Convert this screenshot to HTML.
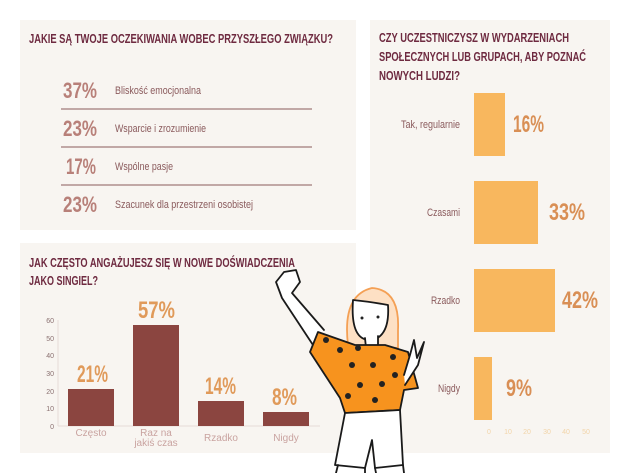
<!DOCTYPE html>
<html><head><meta charset="utf-8"><style>
html,body{margin:0;padding:0;background:#fff;}
svg{display:block;}
text{font-family:"Liberation Sans Narrow","Liberation Sans",sans-serif;}
</style></head><body>
<svg width="630" height="473" viewBox="0 0 630 473" xmlns="http://www.w3.org/2000/svg">
<rect width="630" height="473" fill="#fff"/>
<!-- panel 1 -->
<rect x="20" y="20" width="336" height="210" fill="#f8f5f1"/>
<text x="29" y="43" font-size="13" font-weight="bold" fill="#6e2a40" textLength="304" lengthAdjust="spacingAndGlyphs">JAKIE SĄ TWOJE OCZEKIWANIA WOBEC PRZYSZŁEGO ZWIĄZKU?</text>
<g fill="#b88079" font-size="22" font-weight="bold">
<text x="63" y="98" textLength="34" lengthAdjust="spacingAndGlyphs">37%</text>
<text x="63" y="136" textLength="34" lengthAdjust="spacingAndGlyphs">23%</text>
<text x="66" y="174" textLength="30" lengthAdjust="spacingAndGlyphs">17%</text>
<text x="63" y="212" textLength="34" lengthAdjust="spacingAndGlyphs">23%</text>
</g>
<g fill="#8a5a5c" font-size="11">
<text x="115" y="94" textLength="86" lengthAdjust="spacingAndGlyphs">Bliskość emocjonalna</text>
<text x="115" y="132" textLength="91" lengthAdjust="spacingAndGlyphs">Wsparcie i zrozumienie</text>
<text x="115" y="170" textLength="58" lengthAdjust="spacingAndGlyphs">Wspólne pasje</text>
<text x="115" y="208" textLength="138" lengthAdjust="spacingAndGlyphs">Szacunek dla przestrzeni osobistej</text>
</g>
<g stroke="#8a5a5c" stroke-width="1">
<line x1="61" y1="109" x2="312" y2="109"/><line x1="61" y1="147" x2="312" y2="147"/><line x1="61" y1="185" x2="312" y2="185"/>
</g>
<!-- panel 2 -->
<rect x="20" y="243" width="336" height="210" fill="#f8f5f1"/>
<text x="29" y="267" font-size="13" font-weight="bold" fill="#6e2a40" textLength="266" lengthAdjust="spacingAndGlyphs">JAK CZĘSTO ANGAŻUJESZ SIĘ W NOWE DOŚWIADCZENIA</text>
<text x="29" y="285" font-size="13" font-weight="bold" fill="#6e2a40" textLength="69" lengthAdjust="spacingAndGlyphs">JAKO SINGIEL?</text>
<g font-size="7" fill="#8a7070" text-anchor="end">
<text x="54" y="429">0</text><text x="54" y="411">10</text><text x="54" y="394">20</text><text x="54" y="376">30</text><text x="54" y="358">40</text><text x="54" y="341">50</text><text x="54" y="323">60</text>
</g>
<line x1="58" y1="320" x2="58" y2="426" stroke="#e6dcd6"/>
<line x1="58" y1="426" x2="320" y2="426" stroke="#e6dcd6"/>
<g fill="#8b4540">
<rect x="68" y="389" width="46" height="37"/>
<rect x="133" y="325" width="46" height="101"/>
<rect x="198" y="401" width="46" height="25"/>
<rect x="263" y="412" width="46" height="14"/>
</g>
<g fill="#e09a5a" font-size="24" font-weight="bold">
<text x="77" y="382" textLength="31" lengthAdjust="spacingAndGlyphs">21%</text>
<text x="138" y="318" textLength="37" lengthAdjust="spacingAndGlyphs">57%</text>
<text x="205" y="394" textLength="31" lengthAdjust="spacingAndGlyphs">14%</text>
<text x="272" y="405" textLength="25" lengthAdjust="spacingAndGlyphs">8%</text>
</g>
<g fill="#c9a3a0" font-size="10" text-anchor="middle">
<text x="91" y="436">Często</text><text x="156" y="436">Raz na</text><text x="156" y="446">jakiś czas</text><text x="221" y="441">Rzadko</text><text x="286" y="441">Nigdy</text>
</g>
<!-- panel 3 -->
<rect x="370" y="20" width="240" height="433" fill="#f8f5f1"/>
<g font-size="13" font-weight="bold" fill="#6e2a40">
<text x="379" y="42" textLength="190" lengthAdjust="spacingAndGlyphs">CZY UCZESTNICZYSZ W WYDARZENIACH</text>
<text x="379" y="61" textLength="207" lengthAdjust="spacingAndGlyphs">SPOŁECZNYCH LUB GRUPACH, ABY POZNAĆ</text>
<text x="379" y="80" textLength="81" lengthAdjust="spacingAndGlyphs">NOWYCH LUDZI?</text>
</g>
<g fill="#f8b75e">
<rect x="474" y="93" width="31" height="63"/>
<rect x="474" y="181" width="64" height="63"/>
<rect x="474" y="269" width="81" height="63"/>
<rect x="474" y="357" width="18" height="63"/>
</g>
<g fill="#8a5a5c" font-size="11">
<text x="401" y="128" textLength="59" lengthAdjust="spacingAndGlyphs">Tak, regularnie</text>
<text x="427" y="216" textLength="33" lengthAdjust="spacingAndGlyphs">Czasami</text>
<text x="431" y="304" textLength="29" lengthAdjust="spacingAndGlyphs">Rzadko</text>
<text x="438" y="392" textLength="22" lengthAdjust="spacingAndGlyphs">Nigdy</text>
</g>
<g fill="#d98f55" font-size="24" font-weight="bold">
<text x="513" y="132" textLength="31" lengthAdjust="spacingAndGlyphs">16%</text>
<text x="549" y="220" textLength="36" lengthAdjust="spacingAndGlyphs">33%</text>
<text x="562" y="308" textLength="36" lengthAdjust="spacingAndGlyphs">42%</text>
<text x="506" y="396" textLength="26" lengthAdjust="spacingAndGlyphs">9%</text>
</g>
<g fill="#f2d4a8" font-size="7" text-anchor="middle">
<text x="489" y="434">0</text><text x="508" y="434">10</text><text x="527" y="434">20</text><text x="547" y="434">30</text><text x="566" y="434">40</text><text x="586" y="434">50</text>
</g>
<!-- figure -->
<g stroke="#1a1a1a" stroke-width="1.8" stroke-linejoin="round" stroke-linecap="round">
<path d="M348 345 Q342 295 372 288 Q400 290 398 330 L398 348 Z" fill="#fde0c4" stroke="#f4a055"/>
<path d="M313 345 L282 298 L276 282 L284 272 L296 270 L300 282 L292 293 L324 330" fill="#fff"/>
<path d="M353 300 Q350 342 372 340 Q390 336 388 305 Q372 302 353 300 Z" fill="#fff"/>
<path d="M365 338 L366 348 L378 348 L378 336" fill="#fff"/>
<path d="M318 332 L355 345 L385 345 L408 352 L418 388 L404 390 L400 410 L345 413 L340 398 L310 352 Z" fill="#f7931e"/>
<path d="M404 375 L410 355 L414 340 L417 358 L424 342 L418 365 L405 385" fill="#fff"/>
<path d="M345 413 L400 410 L403 465 L375 468 L372 440 L365 468 L335 465 Z" fill="#fff"/>
<path d="M338 465 L336 473 M365 468 L365 473 M375 468 L376 473 M403 465 L404 473" fill="none"/>
</g>
<g fill="#222">
<circle cx="326" cy="340" r="3"/><circle cx="340" cy="350" r="3"/><circle cx="358" cy="348" r="3"/><circle cx="352" cy="365" r="3"/><circle cx="373" cy="365" r="3"/><circle cx="393" cy="357" r="3"/><circle cx="395" cy="375" r="3"/><circle cx="360" cy="385" r="3"/><circle cx="382" cy="384" r="3"/><circle cx="348" cy="396" r="3"/><circle cx="375" cy="400" r="3"/>
<circle cx="362" cy="318" r="1.5"/><circle cx="378" cy="317" r="1.5"/>
</g>
</svg>
</body></html>
